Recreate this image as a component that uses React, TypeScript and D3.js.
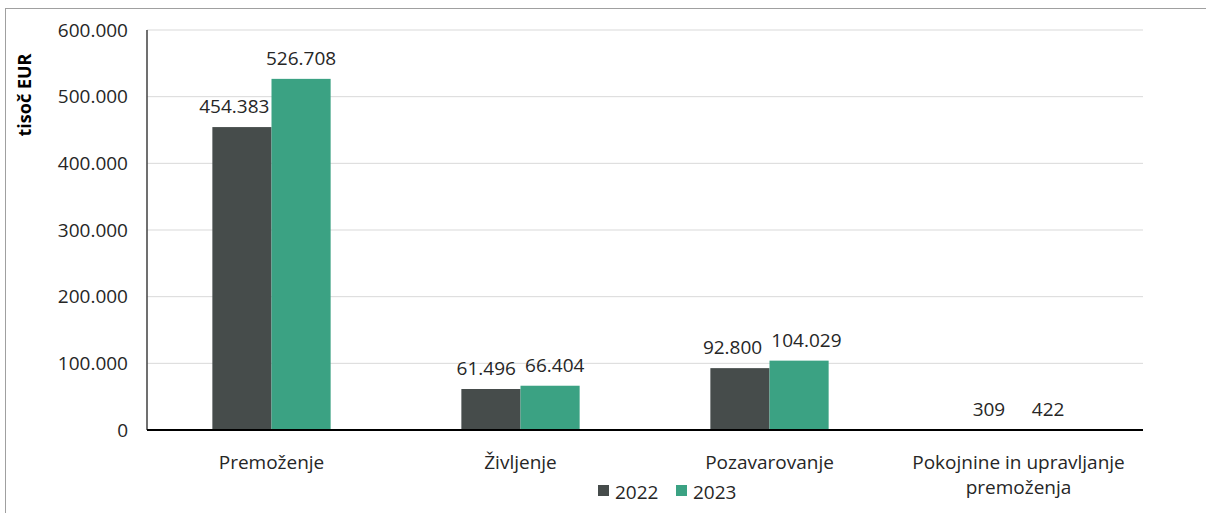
import React from "react";
import * as d3 from "d3";

const categories = [
  ["Premoženje"],
  ["Življenje"],
  ["Pozavarovanje"],
  ["Pokojnine in upravljanje", "premoženja"],
];
const series = ["2022", "2023"];
const values2022 = [454383, 61496, 92800, 309];
const values2023 = [526708, 66404, 104029, 422];
const yTicks = [0, 100000, 200000, 300000, 400000, 500000, 600000];
const colors = ["#464C4B", "#3BA283"];

const fmt = (v: number) => d3.format(",")(v).replace(/,/g, ".");

const FS = 19;
// rough text width of a number label
const textW = (s: string) =>
  s.split("").reduce((a, c) => a + (c === "." ? 0.27 : 0.572) * FS, 0);

export default function App() {
  const width = 1206;
  const height = 513;
  const left = 147;
  const right = 1143;
  const top = 30;
  const bottom = 430;
  const font = "'Open Sans', 'Segoe UI', sans-serif";

  const x = d3
    .scaleBand<number>()
    .domain(categories.map((_, i) => i))
    .range([left, right])
    .paddingInner(0.525)
    .paddingOuter(0.2625);
  const sub = d3.scaleBand<string>().domain(series).range([0, x.bandwidth()]);
  const y = d3.scaleLinear().domain([0, 600000]).range([bottom, top]);
  const data = [values2022, values2023];

  // nudge labels apart like the spreadsheet does when they collide
  const labels = categories.map((_, i) => {
    const bw = sub.bandwidth();
    const items = series.map((s, j) => {
      const v = data[j][i];
      const cx = (x(i) as number) + (sub(s) as number) + bw / 2;
      return { v, text: fmt(v), cx, y: y(v) - 14, w: textW(fmt(v)), dx: 0 };
    });
    const [a, b] = items;
    const gap = 9;
    const overlapX = a.cx + a.w / 2 + gap - (b.cx - b.w / 2);
    if (overlapX > 0) {
      if (Math.abs(a.y - b.y) < 22) {
        a.dx = -overlapX / 2;
        b.dx = overlapX / 2;
      } else if (a.y > b.y) {
        // lower label would hit the taller bar next to it
        const barLeft = b.cx - bw / 2;
        const over = a.cx + a.w / 2 + 2 - barLeft;
        if (over > 0) a.dx = -over;
      }
    }
    return items;
  });

  return (
    <svg
      width={width}
      height={height}
      style={{ position: "absolute", left: 0, top: 0, background: "white" }}
      fontFamily={font}
    >
      <rect x={5.5} y={8.5} width={1205} height={520} fill="white" stroke="#a0a0a0" />
      <g>
        {yTicks.map((t) => (
          <g key={t}>
            {t > 0 && (
              <line x1={left} x2={right} y1={y(t)} y2={y(t)} stroke="#d9d9d9" strokeWidth={1} />
            )}
            <text x={128} y={y(t)} dy="0.35em" textAnchor="end" fontSize={FS} fill="#262626">
              {fmt(t)}
            </text>
          </g>
        ))}
      </g>
      <text
        transform={`translate(31, 95) rotate(-90)`}
        textAnchor="middle"
        fontSize={18}
        fontWeight="bold"
        fill="#000"
      >
        tisoč EUR
      </text>
      {categories.map((_, i) => (
        <g key={i}>
          {series.map((s, j) => {
            const v = data[j][i];
            const bx = (x(i) as number) + (sub(s) as number);
            return (
              <rect
                key={s}
                x={bx}
                y={y(v)}
                width={sub.bandwidth()}
                height={bottom - y(v)}
                fill={colors[j]}
              />
            );
          })}
          {labels[i].map((l, j) => (
            <text
              key={j}
              x={l.cx + l.dx}
              y={l.y}
              textAnchor="middle"
              fontSize={FS}
              fill="#262626"
            >
              {l.text}
            </text>
          ))}
        </g>
      ))}
      <line x1={left} x2={left} y1={top} y2={bottom} stroke="#404040" strokeWidth={1.5} />
      <line x1={left} x2={right} y1={bottom} y2={bottom} stroke="#000" strokeWidth={2} />
      {categories.map((lines, i) => (
        <text
          key={i}
          x={(x(i) as number) + x.bandwidth() / 2}
          y={469}
          textAnchor="middle"
          fontSize={FS}
          fill="#262626"
        >
          {lines.map((l, k) => (
            <tspan key={k} x={(x(i) as number) + x.bandwidth() / 2} dy={k === 0 ? 0 : 25}>
              {l}
            </tspan>
          ))}
        </text>
      ))}
      <g>
        {series.map((s, j) => (
          <g key={s} transform={`translate(${598 + j * 78}, 485)`}>
            <rect x={0} y={0} width={11} height={11} fill={colors[j]} />
            <text x={17} y={14} fontSize={FS} fill="#262626">
              {s}
            </text>
          </g>
        ))}
      </g>
    </svg>
  );
}
